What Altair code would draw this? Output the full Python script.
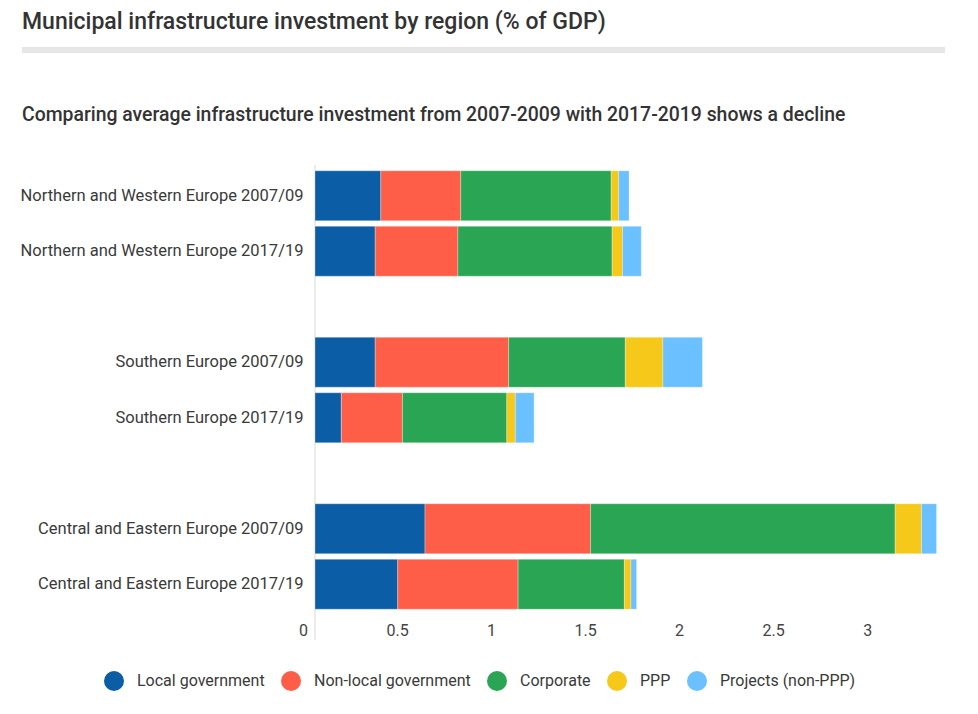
import altair as alt
import pandas as pd

title_text = "Municipal infrastructure investment by region (% of GDP)"
subtitle_text = "Comparing average infrastructure investment from 2007-2009 with 2017-2019 shows a decline"

regions = [
    "Northern and Western Europe 2007/09",
    "Northern and Western Europe 2017/19",
    "Southern Europe 2007/09",
    "Southern Europe 2017/19",
    "Central and Eastern Europe 2007/09",
    "Central and Eastern Europe 2017/19",
]
series = ["Local government", "Non-local government", "Corporate", "PPP", "Projects (non-PPP)"]
colors = ["#0B5EA5", "#FE5E48", "#29A553", "#F6C819", "#6BC0FF"]

local_gov = [0.35, 0.32, 0.32, 0.14, 0.585, 0.44]
nonlocal_gov = [0.425, 0.44, 0.71, 0.325, 0.88, 0.64]
corporate = [0.80, 0.82, 0.62, 0.555, 1.62, 0.565]
ppp = [0.04, 0.055, 0.20, 0.045, 0.14, 0.035]
projects = [0.055, 0.10, 0.21, 0.10, 0.08, 0.03]

y_domain = [regions[0], regions[1], "gap1", regions[2], regions[3], "gap2", regions[4], regions[5]]
x_ticks = [0, 0.5, 1, 1.5, 2, 2.5, 3]

rows = []
for s_i, (name, vals) in enumerate(zip(series, [local_gov, nonlocal_gov, corporate, ppp, projects])):
    for r, v in zip(regions, vals):
        rows.append({"region": r, "series": name, "value": v, "order": s_i})
df = pd.DataFrame(rows)

FONT = "Roboto"
W, H = 630, 444

bars = alt.Chart(df).mark_bar(stroke="white", strokeWidth=0.5, strokeOpacity=0.6).encode(
    x=alt.X("value:Q", stack="zero",
            scale=alt.Scale(domain=[0, 3.35], nice=False, zero=True),
            axis=alt.Axis(title=None, values=x_ticks, format="~g", grid=False, domain=False, ticks=False,
                          labelFontSize=16, labelColor="#444", labelFont=FONT,
                          labelPadding=10, labelOffset=-12, labelFlush=False)),
    y=alt.Y("region:N", sort=y_domain,
            scale=alt.Scale(domain=y_domain, paddingInner=0.1, paddingOuter=0.05),
            axis=alt.Axis(title=None, domain=False, ticks=False, grid=False,
                          labelFontSize=16.5, labelColor="#3a3a3a", labelFont=FONT,
                          labelPadding=12, labelLimit=400,
                          labelExpr="indexof(datum.label, 'gap') === 0 ? '' : datum.label")),
    color=alt.Color("series:N", sort=series,
                    scale=alt.Scale(domain=series, range=colors),
                    legend=alt.Legend(title=None, orient="none", direction="horizontal",
                                      legendX=-211, legendY=503,
                                      symbolType="circle", symbolSize=400,
                                      symbolStrokeWidth=0, symbolOpacity=1,
                                      labelFontSize=16, labelColor="#3a3a3a", labelFont=FONT,
                                      labelLimit=400, labelOffset=13, columnPadding=16)),
    order=alt.Order("order:Q", sort="ascending"),
)

one = pd.DataFrame({"title": [title_text], "subtitle": [subtitle_text]})
vline = alt.Chart(one).mark_rule(color="#d9d9d9", strokeWidth=1).encode(
    x=alt.value(0), y=alt.value(-3), y2=alt.value(472)
)
sep = alt.Chart(one).mark_rule(color="#e6e6e6", strokeWidth=6, strokeCap="butt").encode(
    x=alt.value(-293), x2=alt.value(630), y=alt.value(-118)
)
title = alt.Chart(one).mark_text(
    font=FONT, fontSize=23, fontWeight=500, color="#333", align="left", baseline="middle"
).encode(x=alt.value(-293), y=alt.value(-146), text="title:N")
subtitle = alt.Chart(one).mark_text(
    font=FONT, fontSize=19.4, fontWeight=500, color="#333", align="left", baseline="middle"
).encode(x=alt.value(-293), y=alt.value(-53), text="subtitle:N")

chart = alt.layer(title, sep, subtitle, vline, bars).properties(
    width=W, height=H,
    padding={"left": 11, "top": 3, "right": 5, "bottom": 5},
).configure_view(stroke=None)

chart.save("out.html", embed_options={"renderer": "svg", "actions": False})
